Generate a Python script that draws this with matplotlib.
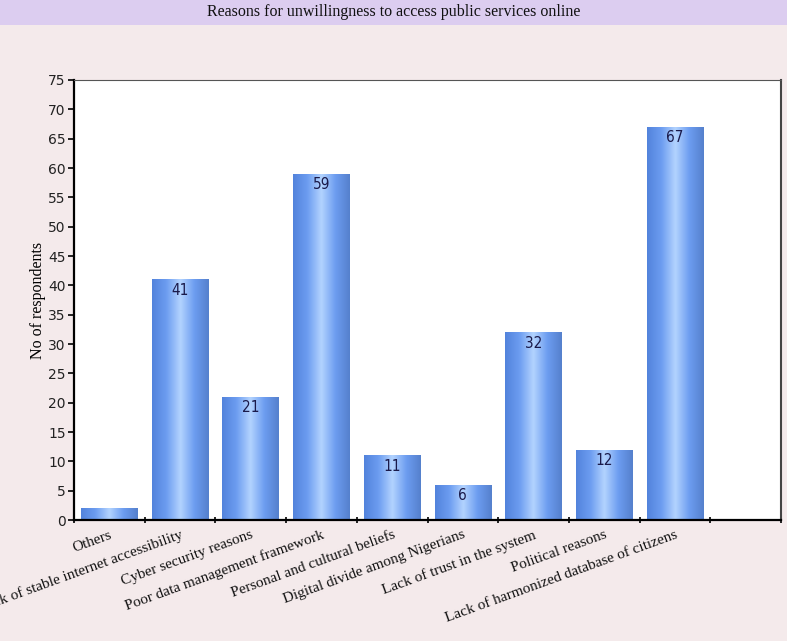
import numpy as np
import matplotlib
matplotlib.use("Agg")
import matplotlib.pyplot as plt
from matplotlib.colors import LinearSegmentedColormap
from matplotlib.patches import Rectangle

categories = [
    "Others",
    "Lack of stable internet accessibility",
    "Cyber security reasons",
    "Poor data management framework",
    "Personal and cultural beliefs",
    "Digital divide among Nigerians",
    "Lack of trust in the system",
    "Political reasons",
    "Lack of harmonized database of citizens",
]
respondents = [2, 41, 21, 59, 11, 6, 32, 12, 67]
yticks = list(range(0, 80, 5))

title = "Reasons for unwillingness to access public services online"
ylabel = "No of respondents"

bg = "#f4eaeb"
fig = plt.figure(figsize=(7.87, 6.41), dpi=100, facecolor=bg)

# title band
band = fig.add_axes([0, 1 - 25 / 641, 1, 25 / 641])
band.set_facecolor("#dccdf0")
band.set_xticks([]); band.set_yticks([])
for s in band.spines.values():
    s.set_visible(False)
band.text(0.5, 0.5, title, ha="center", va="center", fontsize=11.5,
          family="Liberation Serif", color="#111111", transform=band.transAxes)

ax = fig.add_axes([74 / 787, 1 - 520 / 641, (781 - 74) / 787, (520 - 80) / 641])
ax.set_facecolor("white")

n_slots = len(categories) + 1
ax.set_xlim(0, n_slots)
ax.set_ylim(0, 75)

cmap = LinearSegmentedColormap.from_list(
    "cyl", ["#5283dc", "#6c9cf0", "#b3d3ff", "#6c9cf0", "#5580cc"])
grad = np.linspace(0, 1, 256).reshape(1, -1)

bar_w = 0.8
for i, v in enumerate(respondents):
    x0 = i + 0.5 - bar_w / 2
    rect = Rectangle((x0, 0), bar_w, v, facecolor="none", edgecolor="none")
    ax.add_patch(rect)
    im = ax.imshow(grad, cmap=cmap, aspect="auto", extent=(x0, x0 + bar_w, 0, v),
                   zorder=2, interpolation="bicubic")
    im.set_clip_path(rect)
    # value label inside the bar top, only where the bar is tall enough
    if v >= 5:
        ax.text(i + 0.5, v - 0.6, str(v), ha="center", va="top", fontsize=11,
                family="DejaVu Sans", color="#1a1a4a", zorder=3,
                fontstretch="condensed")

ax.set_xticks(np.arange(0, n_slots + 1))
ax.set_xticklabels([])
ax.set_xticks(np.arange(len(categories)) + 0.5, minor=True)
ax.set_xticklabels(categories, minor=True, rotation=20, ha="right",
                   rotation_mode="anchor", family="Liberation Serif", fontsize=11,
                   color="#111111")
ax.tick_params(axis="x", which="minor", length=0, pad=6)
ax.tick_params(axis="x", which="major", length=5, width=1.2, direction="inout", color="black")

ax.set_yticks(yticks)
ax.set_yticklabels([str(t) for t in yticks], family="DejaVu Sans", fontsize=10,
                   color="#222222")
ax.tick_params(axis="y", length=4, width=1.2, color="black", pad=2)

ax.set_ylabel(ylabel, family="Liberation Serif", fontsize=11.5)
ax.yaxis.set_label_coords(-0.039, 0.5)

ax.spines["left"].set_linewidth(1.6)
ax.spines["bottom"].set_linewidth(1.6)
ax.spines["top"].set_linewidth(0.8)
ax.spines["top"].set_color("#555555")
ax.spines["right"].set_linewidth(1.5)
ax.spines["right"].set_color("#444444")

fig.savefig("out.png", dpi=100, facecolor=bg)
